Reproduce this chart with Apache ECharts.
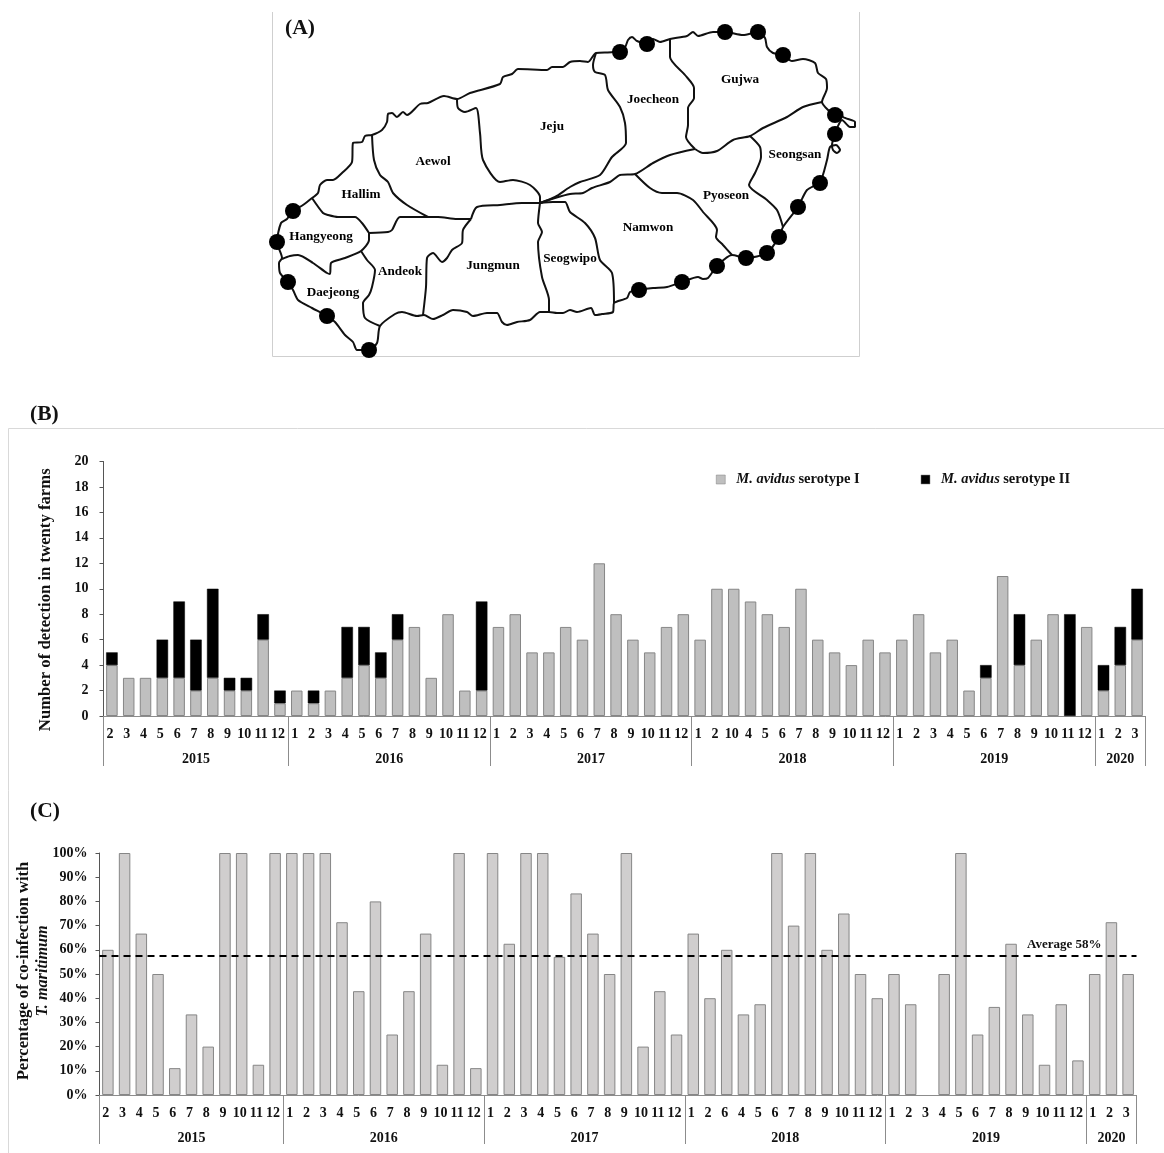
<!DOCTYPE html>
<html>
<head>
<meta charset="utf-8">
<style>html,body{margin:0;padding:0;background:#fff}#c{width:1164px;height:1153px}</style>
<script src="https://cdn.jsdelivr.net/npm/echarts@6/dist/echarts.min.js"></script>
</head>
<body>
<div id="c"></div>
<script>
// ---------- chart data ----------
const monthLabelsB = ['2','3','4','5','6','7','8','9','10','11','12','1','2','3','4','5','6','7','8','9','10','11','12','1','2','3','4','5','6','7','8','9','10','11','12','1','2','10','4','5','6','7','8','9','10','11','12','1','2','3','4','5','6','7','8','9','10','11','12','1','2','3'];
const monthLabelsC = ['2','3','4','5','6','7','8','9','10','11','12','1','2','3','4','5','6','7','8','9','10','11','12','1','2','3','4','5','6','7','8','9','10','11','12','1','2','6','4','5','6','7','8','9','10','11','12','1','2','3','4','5','6','7','8','9','10','11','12','1','2','3'];
const years = ['2015','2016','2017','2018','2019','2020'];
const yearMonthCounts = [11,12,12,12,12,3];
const serotypeI = [4,3,3,3,3,2,3,2,2,6,1, 2,1,2,3,4,3,6,7,3,8,2,2, 7,8,5,5,7,6,12,8,6,5,7,8, 6,10,10,9,8,7,10,6,5,4,6,5, 6,8,5,6,2,3,11,4,6,8,0,7, 2,4,6];
const serotypeII = [1,0,0,3,6,4,7,1,1,2,1, 0,1,0,4,3,2,2,0,0,0,0,7, 0,0,0,0,0,0,0,0,0,0,0,0, 0,0,0,0,0,0,0,0,0,0,0,0, 0,0,0,0,0,1,0,4,0,0,8,0, 2,3,4];
const coinfection = [60,100,66.7,50,11.1,33.3,20,100,100,12.5,100, 100,100,100,71.4,42.9,80,25,42.9,66.7,12.5,100,11.1, 100,62.5,100,100,57.1,83.3,66.7,50,100,20,42.9,25, 66.7,40,60,33.3,37.5,100,70,100,60,75,50,40, 50,37.5,0,50,100,25,36.4,62.5,33.3,12.5,37.5,14.3, 50,71.4,50];
const averageValue = 57.6;

// ---------- map data (map units) ----------
const farmSites = [[293,211],[277,242],[288,282],[327,316],[369,350],[639,290],[682,282],[717,266],[746,258],[767,253],[779,237],[798,207],[820,183],[835,134],[835,115],[783,55],[758,32],[725,32],[647,44],[620,52]];
const regionNames = [['Jeju',552,127],['Aewol',433,162],['Hallim',361,195],['Hangyeong',321,237],['Andeok',400,272],['Daejeong',333,293],['Jungmun',493,266],['Seogwipo',570,259],['Namwon',648,228],['Pyoseon',726,196],['Seongsan',795,155],['Gujwa',740,80],['Joecheon',653,100]];
const coast = [[312,198],[318,193],[320,185],[327,180],[333,180],[342,173],[352,162],[353,143],[362,142],[365,136],[372,135],[382,130],[387,122],[388,114],[392,113],[397,117],[403,112],[407,115],[420,104],[428,103],[444,96],[457,99],[470,93],[500,84],[503,77],[512,74],[518,69],[547,70],[552,67],[563,67],[570,62],[580,61],[588,62],[596,53],[613,52],[625,47],[628,40],[632,37],[637,41],[647,44],[653,39],[660,42],[670,39],[687,36],[693,32],[698,36],[713,32],[725,32],[743,35],[758,32],[765,38],[767,47],[773,53],[783,55],[792,61],[803,59],[815,63],[818,73],[826,79],[827,88],[822,102],[828,110],[835,115],[842,112],[843,117],[855,122],[855,127],[850,127],[842,120],[837,128],[835,134],[832,145],[833,150],[837,153],[840,150],[836,145],[830,147],[827,160],[820,182],[807,190],[798,207],[783,227],[779,237],[767,253],[746,258],[732,255],[717,266],[708,278],[703,279],[698,277],[682,282],[667,287],[653,288],[639,290],[630,292],[627,298],[614,303],[613,312],[602,314],[595,315],[591,308],[577,312],[570,310],[563,313],[557,313],[549,312],[540,312],[530,320],[517,322],[507,325],[502,322],[497,313],[487,313],[473,316],[467,312],[453,310],[443,315],[433,319],[424,315],[417,316],[402,312],[395,314],[380,326],[377,343],[369,350],[357,350],[353,342],[345,335],[335,322],[327,316],[312,308],[298,300],[293,290],[288,282],[280,273],[279,263],[282,258],[277,242],[281,223],[287,219],[293,211],[303,205],[312,198]];
const hallimSouth = [[312,198],[323,213],[328,215],[338,217],[355,217],[362,223],[369,233]];
const hangyeongSouth = [[369,233],[369,240],[361,251],[345,258],[331,263],[330,274],[327,273],[313,263],[298,255],[290,256],[282,259]];
const daejeongEast = [[361,251],[367,260],[375,270],[372,287],[369,295],[363,303],[365,318],[380,326]];
const andeokNorth = [[369,233],[388,232],[392,230],[400,217],[427,217],[438,217],[457,219],[471,219]];
const hallimEast = [[372,135],[374,160],[380,175],[388,182],[393,193],[407,205],[428,217]];
const andeokEast = [[471,219],[463,230],[462,243],[452,250],[447,258],[442,262],[433,253],[427,258],[426,287],[423,315]];
const jungmunNorth = [[471,219],[477,207],[500,205],[522,203],[540,203]];
const jungmunEast = [[540,203],[538,223],[542,232],[538,242],[542,277],[549,300],[549,312]];
const aewolEast = [[457,99],[458,108],[465,112],[476,108],[480,133],[483,160],[500,182],[513,180],[530,185],[540,197],[540,203]];
const seogwipoEast = [[540,203],[553,202],[565,202],[570,212],[585,223],[595,238],[600,260],[612,273],[614,303]];
const jejuEast = [[540,203],[555,197],[570,187],[580,182],[600,175],[612,157],[626,143],[625,123],[620,107],[608,90],[605,75],[595,72],[593,65],[596,53]];
const centralNorth = [[540,203],[555,198],[570,194],[583,193],[592,188],[610,182],[620,175],[635,174],[653,163],[670,155],[695,149]];
const joecheonEast = [[670,39],[670,57],[685,75],[694,88],[694,98],[688,108],[688,125],[686,137],[695,149]];
const gujwaSouth = [[695,149],[703,153],[717,151],[733,140],[750,136],[763,128],[787,117],[803,107],[822,102]];
const namwonNorth = [[635,174],[650,188],[662,193],[677,193],[693,200],[703,212],[717,230],[716,237],[723,245],[732,255]];
const pyoseonEast = [[750,136],[760,147],[761,157],[755,173],[749,185],[767,200],[777,210],[783,227]];
const mapPaths = [coast,hallimSouth,hangyeongSouth,daejeongEast,andeokNorth,hallimEast,andeokEast,jungmunNorth,jungmunEast,aewolEast,seogwipoEast,jejuEast,centralNorth,joecheonEast,gujwaSouth,namwonNorth,pyoseonEast];

// ---------- derived from the arrays above ----------
const FONT = '"Liberation Serif","Times New Roman",serif';
const INK = '#111';
const boundaries = [0]; yearMonthCounts.forEach(n => boundaries.push(boundaries[boundaries.length-1]+n));
const midpoints = yearMonthCounts.map((n,i) => boundaries[i]+n/2);
const yearOf = v => years[midpoints.indexOf(v)] || '';
const bold = (size) => ({fontFamily:FONT,fontWeight:'bold',fontSize:size,color:INK});
const hideZeroBorder = arr => arr.map(v => v === 0 ? {value:0,itemStyle:{borderWidth:0}} : v);

function monthAxis(grid, labels, margin){
  return {type:'category',gridIndex:grid,data:labels,
    axisLine:{show:true,lineStyle:{color:'#8c8c8c',width:1}},axisTick:{show:false},
    axisLabel:Object.assign({interval:0,margin,hideOverlap:false,padding:[0,4,0,0]},bold(14))};
}
function yearAxis(grid, len, margin){
  return {type:'value',gridIndex:grid,min:0,max:boundaries[boundaries.length-1],position:'bottom',
    axisLine:{show:false},splitLine:{show:false},
    axisTick:{show:true,customValues:boundaries,length:len,lineStyle:{color:'#8c8c8c',width:1}},
    axisLabel:Object.assign({customValues:midpoints,formatter:yearOf,margin,showMinLabel:true,showMaxLabel:true},bold(14))};
}

const series = [];
mapPaths.forEach(p => series.push({type:'line',xAxisIndex:0,yAxisIndex:0,data:p,symbol:'none',smooth:0.25,clip:false,silent:true,
  lineStyle:{color:'#111',width:2},z:2}));
series.push({type:'scatter',xAxisIndex:0,yAxisIndex:0,data:farmSites,symbol:'circle',symbolSize:16,clip:false,silent:true,itemStyle:{color:'#000',opacity:1},z:4});
series.push({type:'scatter',xAxisIndex:0,yAxisIndex:0,data:regionNames.map(r=>({name:r[0],value:[r[1],r[2]]})),symbolSize:0,clip:false,silent:true,z:5,
  label:Object.assign({show:true,position:'inside',formatter:'{b}',opacity:1},bold(13.2),{color:'#000'})});
series.push({name:'M. avidus serotype I',type:'bar',xAxisIndex:1,yAxisIndex:1,stack:'b',data:hideZeroBorder(serotypeI),barWidth:11.5,
  itemStyle:{color:'#bfbfbf',borderColor:'#868686',borderWidth:1}});
series.push({name:'M. avidus serotype II',type:'bar',xAxisIndex:1,yAxisIndex:1,stack:'b',data:hideZeroBorder(serotypeII),barWidth:11.5,
  itemStyle:{color:'#000',borderColor:'#000',borderWidth:0.5}});
series.push({name:'Co-infection',type:'bar',xAxisIndex:3,yAxisIndex:2,data:hideZeroBorder(coinfection),barWidth:11.5,
  itemStyle:{color:'#d0cece',borderColor:'#868686',borderWidth:1},
  markLine:{silent:true,symbol:'none',animation:false,precision:1,
    lineStyle:{color:'#000',type:[7,5],width:2},
    label:Object.assign({show:true,position:'insideEndTop',formatter:'Average 58%',distance:[35,4]},bold(13)),
    data:[{yAxis:averageValue}]}});

const option = {
  animation:false,
  backgroundColor:'#fff',
  title:[
    {text:'(A)',left:285,top:17,textStyle:bold(21.5),padding:0},
    {text:'(B)',left:30,top:403,textStyle:bold(21.5),padding:0},
    {text:'(C)',left:30,top:800,textStyle:bold(21.5),padding:0}
  ],
  legend:{left:716,top:472,data:['M. avidus serotype I','M. avidus serotype II'],itemWidth:9,itemHeight:9,itemGap:61,padding:0,selectedMode:false,
    icon:'rect',
    itemStyle:{borderColor:'#808080',borderWidth:0.5},
    formatter:n=>'{i|M. avidus} {b|'+n.replace('M. avidus ','')+'}',
    textStyle:{rich:{
      i:{fontFamily:FONT,fontStyle:'italic',fontWeight:'bold',fontSize:14.5,color:INK,padding:[0,0,0,6]},
      b:{fontFamily:FONT,fontWeight:'bold',fontSize:14.5,color:INK}}}},
  grid:[
    {left:272,top:0,width:587,height:356,outerBoundsMode:'none'},
    {left:103.5,top:461.5,width:1042,height:254.5,outerBoundsMode:'none'},
    {left:99.5,top:853,width:1037,height:242,outerBoundsMode:'none'}
  ],
  xAxis:[
    {type:'value',gridIndex:0,min:272,max:859,show:false},
    monthAxis(1,monthLabelsB,11),
    yearAxis(1,50,36),
    monthAxis(2,monthLabelsC,11),
    yearAxis(2,49,36)
  ],
  yAxis:[
    {type:'value',gridIndex:0,min:0,max:356,inverse:true,show:false},
    {type:'value',gridIndex:1,min:0,max:20,interval:2,splitLine:{show:false},
      axisLine:{show:true,lineStyle:{color:'#555'}},axisTick:{show:true,length:4,lineStyle:{color:'#555'}},
      axisLabel:Object.assign({margin:15},bold(14)),
      name:'Number of detection in twenty farms',nameLocation:'middle',nameGap:49,nameMoveOverlap:false,
      nameTextStyle:Object.assign({padding:[0,22,0,0]},bold(16.7))},
    {type:'value',gridIndex:2,min:0,max:100,interval:10,splitLine:{show:false},
      axisLine:{show:true,lineStyle:{color:'#555'}},axisTick:{show:true,length:4,lineStyle:{color:'#555'}},
      axisLabel:Object.assign({margin:12,formatter:'{value}%'},bold(14)),
      name:'{a|Percentage of co-infection with}\n{b|T. maritimum}',nameLocation:'middle',nameGap:47,nameMoveOverlap:false,
      nameTextStyle:{padding:[0,0,0,6],rich:{
        a:Object.assign({lineHeight:19},bold(16.6)),
        b:Object.assign({lineHeight:19,fontStyle:'italic'},bold(16.2))}}}
  ],
  series,
  graphic:[
    {type:'polyline',silent:true,shape:{points:[[272.5,12],[272.5,356.5],[859.5,356.5],[859.5,12]]},style:{stroke:'#cfcfcf',lineWidth:1,fill:'none'}},
    {type:'polyline',silent:true,shape:{points:[[1164,428.5],[8.5,428.5],[8.5,1153]]},style:{stroke:'#d9d9d9',lineWidth:1,fill:'none'}}
  ]
};
echarts.init(document.getElementById('c'),null,{renderer:'canvas'}).setOption(option);
</script>
</body>
</html>
